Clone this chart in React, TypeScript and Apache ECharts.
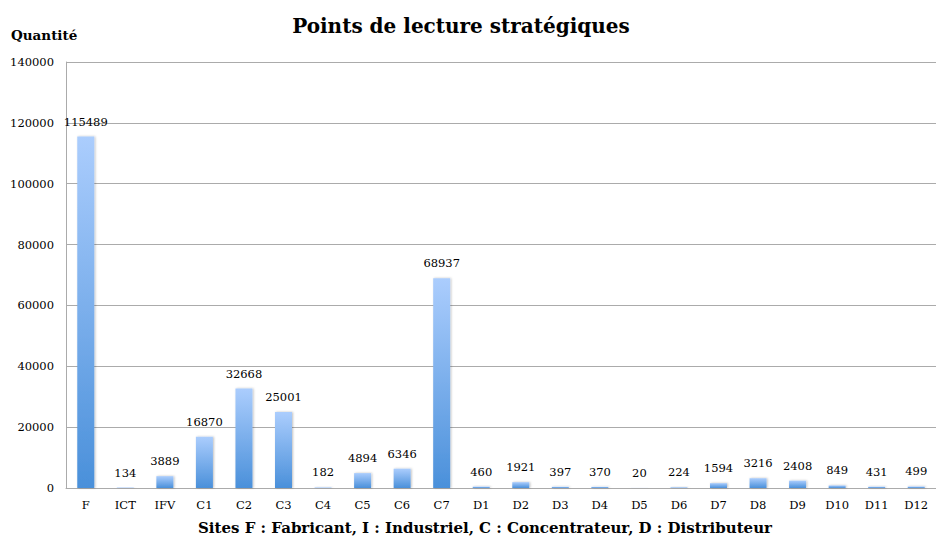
import React, { useEffect, useRef } from "react";
import * as echarts from "echarts";

const categories = ["F", "ICT", "IFV", "C1", "C2", "C3", "C4", "C5", "C6", "C7", "D1", "D2", "D3", "D4", "D5", "D6", "D7", "D8", "D9", "D10", "D11", "D12"];
const values = [115489, 134, 3889, 16870, 32668, 25001, 182, 4894, 6346, 68937, 460, 1921, 397, 370, 20, 224, 1594, 3216, 2408, 849, 431, 499];
const yTicks = { min: 0, max: 140000, interval: 20000 };
const titleText = "Points de lecture stratégiques";
const yName = "Quantité";
const xName = "Sites F : Fabricant, I : Industriel, C : Concentrateur, D : Distributeur";

const FONT = "'DejaVu Serif', serif";

export default function App() {
  const ref = useRef<HTMLDivElement>(null);
  useEffect(() => {
    if (!ref.current) return;
    const chart = echarts.init(ref.current, undefined, { renderer: "svg" });
    chart.setOption({
      animation: false,
      backgroundColor: "#ffffff",
      textStyle: { fontFamily: FONT },
      graphic: [
        {
          type: "text",
          x: 461,
          y: 26,
          style: { text: titleText, font: "bold 20px " + FONT, fill: "#000", align: "center", verticalAlign: "middle" },
        },
        {
          type: "text",
          x: 11,
          y: 35,
          style: { text: yName, font: "bold 13.5px " + FONT, fill: "#000", align: "left", verticalAlign: "middle" },
        },
        {
          type: "text",
          x: 485,
          y: 528,
          style: { text: xName, font: "bold 15px " + FONT, fill: "#000", align: "center", verticalAlign: "middle" },
        },
      ],
      grid: { left: 66, right: -7, top: 62, bottom: 69, containLabel: false },
      xAxis: {
        type: "category",
        data: categories,
        axisLine: { show: true, lineStyle: { color: "#ababab", width: 1 } },
        axisTick: { show: false },
        axisLabel: { color: "#000", fontFamily: FONT, fontSize: 11.5, margin: 11, interval: 0 },
      },
      yAxis: {
        type: "value",
        min: yTicks.min,
        max: yTicks.max,
        interval: yTicks.interval,
        axisLine: { show: true, lineStyle: { color: "#ababab", width: 1 } },
        axisTick: { show: false },
        splitLine: { show: true, lineStyle: { color: "#ababab", width: 1 } },
        axisLabel: { color: "#000", fontFamily: FONT, fontSize: 11.5, margin: 12, formatter: (v: number) => String(v) },
      },
      series: [
        {
          type: "bar",
          data: values,
          barWidth: 17,
          itemStyle: {
            color: new echarts.graphic.LinearGradient(0, 0, 0, 1, [
              { offset: 0, color: "#abcdfd" },
              { offset: 1, color: "#4a90da" },
            ]),
            shadowColor: "rgba(0,0,0,0.25)",
            shadowBlur: 2,
            shadowOffsetX: 1,
            shadowOffsetY: 0,
          },
          label: {
            show: true,
            position: "top",
            distance: 9,
            color: "#000",
            fontFamily: FONT,
            fontSize: 11.5,
          },
        },
      ],
    });
    return () => chart.dispose();
  }, []);
  return <div ref={ref} style={{ width: 936, height: 557, position: "fixed", left: 0, top: 0 }} />;
}
